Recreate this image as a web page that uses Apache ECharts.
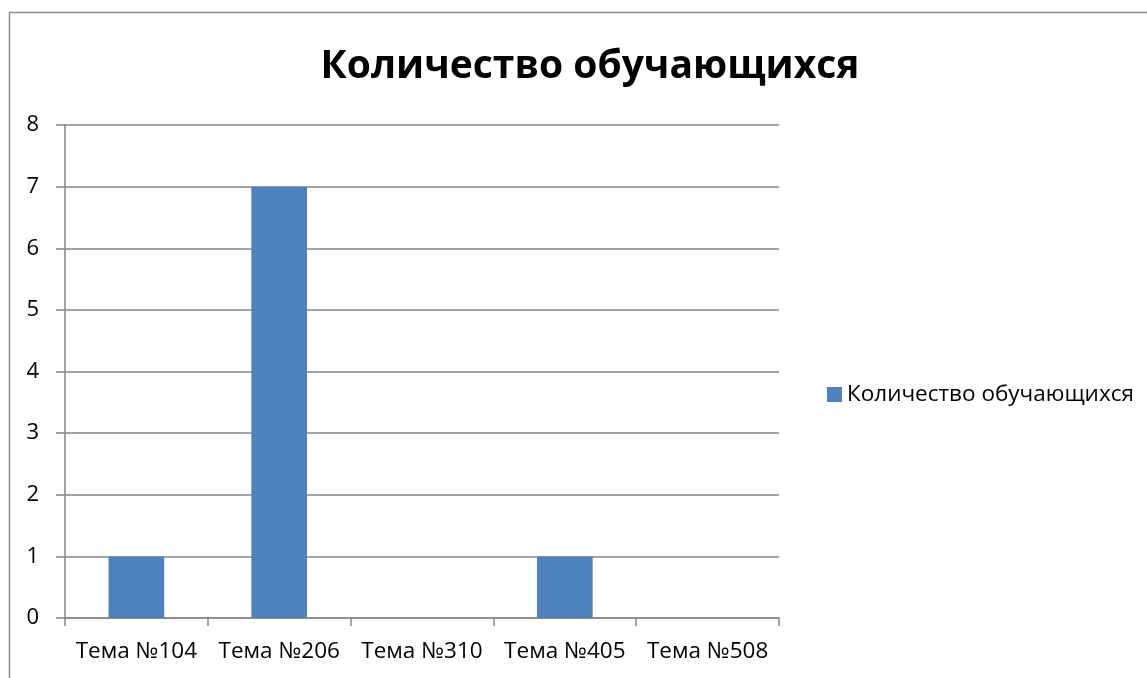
<!DOCTYPE html>
<html><head><meta charset="utf-8">
<script src="https://cdn.jsdelivr.net/npm/echarts@6/dist/echarts.min.js"></script>
<style>html,body{margin:0;padding:0;background:#fff;}#c{width:1147px;height:678px;}</style>
</head><body><div id="c"></div>
<script>
const categories = ['Тема №104', 'Тема №206', 'Тема №310', 'Тема №405', 'Тема №508'];
const values = [1, 7, 0, 1, 0];
const seriesName = 'Количество обучающихся';
const titleText = 'Количество обучающихся';
const yTicks = {min: 0, max: 8, interval: 1};

const FONT = '"Open Sans", "Noto Sans", sans-serif';
const chart = echarts.init(document.getElementById('c'));
chart.setOption({
  animation: false,
  graphic: [{type: 'rect', shape: {x: 9.5, y: 12.5, width: 1200, height: 700}, style: {fill: 'none', stroke: '#8c8c8c', lineWidth: 1.5}, z: -1}],
  title: {text: titleText, left: 585, textAlign: 'center', top: 42,
    textStyle: {fontFamily: FONT, fontSize: 39, fontWeight: 'bold', color: '#000'}},
  legend: {left: 822, top: 378, itemWidth: 15, itemHeight: 15, itemGap: 7,
    icon: 'rect', textStyle: {fontFamily: FONT, fontSize: 22.5, color: '#000'},
    data: [seriesName]},
  grid: {left: 65, right: 368, top: 125, bottom: 60, containLabel: false},
  xAxis: {type: 'category', data: categories,
    axisLine: {lineStyle: {color: '#868686', width: 1.5}},
    axisTick: {show: true, length: 8, interval: 0, alignWithLabel: false, lineStyle: {color: '#868686', width: 1.5}},
    axisLabel: {fontFamily: FONT, fontSize: 22.5, color: '#000', margin: 22, interval: 0, hideOverlap: false}},
  yAxis: {type: 'value', min: yTicks.min, max: yTicks.max, interval: yTicks.interval,
    axisLine: {show: true, lineStyle: {color: '#868686', width: 1.5}},
    axisTick: {show: true, length: 9, lineStyle: {color: '#868686', width: 1.5}},
    splitLine: {lineStyle: {color: '#868686', width: 1.5}},
    axisLabel: {fontFamily: FONT, fontSize: 22, color: '#000', margin: 26, align: 'right'}},
  series: [{name: seriesName, type: 'bar', data: values, barWidth: '39%',
    itemStyle: {color: '#4F81BD'}}]
});
</script></body></html>
